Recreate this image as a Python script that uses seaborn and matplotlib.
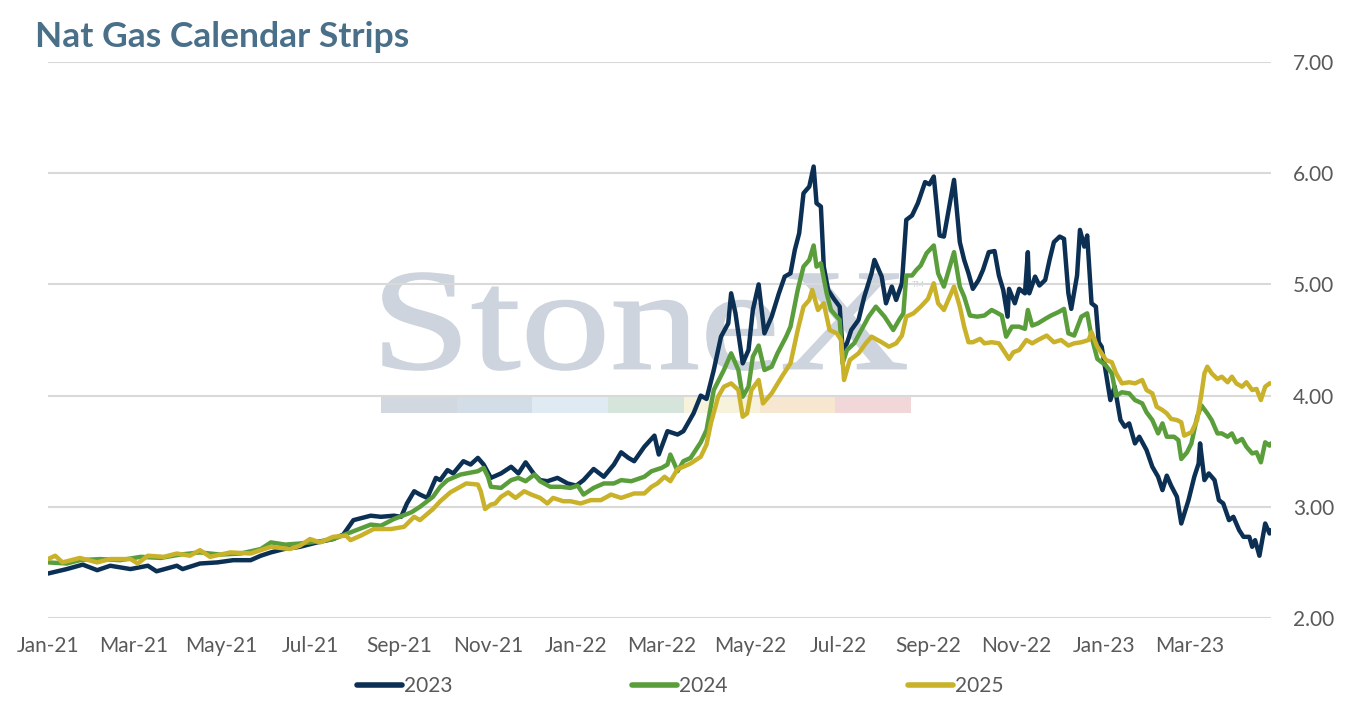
import numpy as np
import pandas as pd
import matplotlib
matplotlib.use("Agg")
import matplotlib.pyplot as plt
import matplotlib.dates as mdates
from matplotlib.ticker import FormatStrFormatter
from matplotlib.textpath import TextPath
from matplotlib.patches import PathPatch, Rectangle
from matplotlib.font_manager import FontProperties
from matplotlib.transforms import Affine2D
import seaborn as sns

# ---------------- data (days since 2021-01-01, price) ----------------
start_date = "2021-01-01"
series_names = ["2023", "2024", "2025"]

days_2023 = [0, 13, 24, 34, 43, 57, 69, 75, 89, 93,
             105, 117, 128, 140, 147, 154, 163, 174, 186, 197,
             204, 211, 223, 230, 239, 244, 248, 253, 257, 262,
             268, 271, 276, 280, 287, 292, 297, 301, 306, 313,
             320, 325, 330, 336, 340, 345, 352, 359, 365, 370,
             377, 384, 391, 396, 401, 405, 412, 419, 422, 428,
             435, 439, 446, 451, 455, 460, 465, 470, 472, 475,
             480, 484, 487, 491, 495, 500, 505, 509, 513, 516,
             519, 522, 526, 529, 531, 534, 536, 539, 543, 547,
             549, 552, 555, 560, 564, 569, 571, 576, 579, 583,
             586, 590, 593, 597, 601, 606, 609, 612, 616, 619,
             626, 630, 633, 636, 639, 643, 646, 650, 654, 657,
             660, 663, 664, 668, 671, 675, 677, 678, 682, 685,
             689, 692, 695, 699, 702, 705, 707, 711, 713, 716,
             718, 721, 724, 726, 728, 731, 734, 737, 741, 744,
             747, 751, 754, 759, 763, 767, 770, 773, 776, 780,
             783, 788, 792, 795, 796, 799, 802, 806, 809, 812,
             816, 819, 823, 826, 830, 832, 834, 837, 841, 844,
             845]
vals_2023 = [2.40, 2.44, 2.48, 2.43, 2.47, 2.44, 2.47, 2.42, 2.47, 2.44,
             2.49, 2.50, 2.52, 2.52, 2.56, 2.59, 2.62, 2.64, 2.68, 2.71,
             2.75, 2.88, 2.92, 2.91, 2.92, 2.91, 3.03, 3.14, 3.11, 3.08,
             3.26, 3.24, 3.33, 3.30, 3.41, 3.38, 3.44, 3.38, 3.26, 3.30,
             3.36, 3.30, 3.40, 3.29, 3.24, 3.23, 3.26, 3.21, 3.19, 3.24,
             3.34, 3.27, 3.38, 3.49, 3.44, 3.41, 3.54, 3.64, 3.47, 3.68,
             3.65, 3.68, 3.84, 4.00, 3.97, 4.23, 4.53, 4.65, 4.92, 4.74,
             4.29, 4.41, 4.77, 5.00, 4.56, 4.71, 4.92, 5.07, 5.10, 5.31,
             5.46, 5.82, 5.88, 6.06, 5.73, 5.70, 5.16, 4.95, 4.87, 4.80,
             4.41, 4.47, 4.59, 4.68, 4.89, 5.10, 5.22, 5.07, 4.83, 4.98,
             4.86, 5.01, 5.58, 5.62, 5.73, 5.92, 5.90, 5.97, 5.44, 5.43,
             5.94, 5.38, 5.22, 5.10, 4.96, 5.04, 5.13, 5.29, 5.30, 5.08,
             4.95, 4.71, 4.96, 4.83, 4.96, 4.92, 5.29, 4.92, 5.07, 4.99,
             5.04, 5.22, 5.38, 5.43, 5.41, 4.92, 4.78, 5.08, 5.49, 5.34,
             5.44, 4.83, 4.80, 4.48, 4.44, 4.20, 3.96, 4.08, 3.78, 3.72,
             3.75, 3.57, 3.63, 3.51, 3.36, 3.27, 3.15, 3.28, 3.19, 3.09,
             2.85, 3.06, 3.27, 3.39, 3.57, 3.24, 3.30, 3.24, 3.06, 3.03,
             2.88, 2.91, 2.79, 2.73, 2.73, 2.64, 2.70, 2.56, 2.85, 2.76,
             2.79]

days_2024 = [0, 13, 22, 36, 50, 64, 78, 91, 105, 119,
             133, 147, 154, 164, 174, 188, 197, 209, 223, 230,
             239, 251, 257, 266, 271, 276, 285, 297, 301, 304,
             306, 313, 320, 325, 330, 336, 340, 347, 354, 361,
             366, 370, 377, 384, 391, 396, 403, 412, 417, 424,
             428, 430, 435, 439, 444, 451, 455, 460, 467, 472,
             477, 480, 484, 487, 491, 495, 500, 504, 510, 513,
             518, 522, 526, 529, 531, 534, 538, 541, 547, 549,
             552, 557, 562, 567, 572, 578, 581, 584, 588, 591,
             593, 597, 600, 603, 607, 612, 615, 619, 626, 630,
             633, 637, 642, 647, 652, 655, 659, 662, 666, 671,
             675, 677, 680, 684, 689, 693, 698, 702, 705, 709,
             714, 718, 721, 725, 728, 731, 735, 738, 742, 747,
             751, 756, 759, 763, 767, 770, 773, 778, 781, 783,
             787, 790, 794, 797, 801, 804, 808, 811, 815, 818,
             821, 825, 828, 832, 835, 838, 841, 844, 845]
vals_2024 = [2.50, 2.49, 2.52, 2.53, 2.52, 2.55, 2.54, 2.57, 2.59, 2.57,
             2.58, 2.62, 2.68, 2.66, 2.67, 2.69, 2.71, 2.77, 2.84, 2.83,
             2.89, 2.95, 3.00, 3.09, 3.18, 3.24, 3.29, 3.32, 3.35, 3.27,
             3.18, 3.17, 3.24, 3.26, 3.23, 3.29, 3.23, 3.18, 3.18, 3.17,
             3.19, 3.11, 3.17, 3.21, 3.21, 3.24, 3.23, 3.27, 3.32, 3.35,
             3.38, 3.47, 3.32, 3.41, 3.44, 3.58, 3.69, 4.05, 4.23, 4.38,
             4.23, 3.99, 4.08, 4.35, 4.45, 4.23, 4.26, 4.38, 4.53, 4.62,
             4.95, 5.16, 5.22, 5.35, 5.16, 5.19, 4.92, 4.77, 4.68, 4.29,
             4.41, 4.47, 4.59, 4.71, 4.80, 4.71, 4.65, 4.59, 4.68, 4.74,
             5.08, 5.08, 5.13, 5.17, 5.28, 5.35, 5.10, 4.98, 5.29, 4.98,
             4.89, 4.72, 4.71, 4.72, 4.77, 4.75, 4.72, 4.53, 4.62, 4.62,
             4.60, 4.77, 4.63, 4.65, 4.69, 4.72, 4.75, 4.78, 4.56, 4.54,
             4.71, 4.74, 4.53, 4.33, 4.30, 4.27, 4.20, 4.00, 4.03, 4.02,
             3.96, 3.93, 3.85, 3.78, 3.66, 3.75, 3.63, 3.63, 3.60, 3.43,
             3.49, 3.57, 3.81, 3.91, 3.84, 3.78, 3.66, 3.66, 3.63, 3.66,
             3.58, 3.61, 3.54, 3.48, 3.49, 3.40, 3.58, 3.55, 3.57]

days_2025 = [0, 5, 10, 22, 34, 43, 57, 62, 69, 80,
             89, 98, 105, 112, 126, 140, 154, 167, 174, 181,
             188, 197, 206, 209, 216, 225, 237, 246, 253, 257,
             266, 271, 278, 289, 297, 299, 302, 306, 309, 313,
             318, 323, 329, 334, 340, 345, 349, 356, 361, 368,
             375, 382, 389, 396, 405, 412, 417, 421, 426, 430,
             435, 439, 444, 451, 455, 458, 463, 467, 472, 477,
             480, 483, 486, 491, 494, 500, 507, 513, 518, 522,
             526, 528, 532, 536, 540, 545, 548, 550, 554, 560,
             565, 569, 576, 581, 586, 590, 593, 598, 603, 608,
             612, 615, 619, 626, 630, 633, 636, 639, 644, 647,
             652, 657, 661, 664, 667, 671, 676, 680, 684, 690,
             695, 700, 705, 709, 714, 719, 721, 725, 728, 731,
             735, 738, 742, 747, 751, 756, 759, 763, 766, 770,
             773, 776, 780, 783, 785, 790, 794, 797, 799, 801,
             804, 808, 811, 815, 818, 821, 825, 828, 832, 835,
             838, 841, 844, 845]
vals_2025 = [2.53, 2.56, 2.50, 2.54, 2.50, 2.53, 2.53, 2.49, 2.56, 2.55,
             2.58, 2.56, 2.61, 2.55, 2.59, 2.58, 2.64, 2.62, 2.65, 2.71,
             2.68, 2.73, 2.74, 2.70, 2.74, 2.80, 2.80, 2.82, 2.91, 2.88,
             2.98, 3.05, 3.13, 3.21, 3.20, 3.14, 2.98, 3.02, 3.03, 3.09,
             3.13, 3.08, 3.14, 3.11, 3.08, 3.03, 3.08, 3.05, 3.05, 3.03,
             3.06, 3.06, 3.11, 3.08, 3.12, 3.12, 3.18, 3.21, 3.27, 3.23,
             3.34, 3.36, 3.39, 3.45, 3.56, 3.75, 3.99, 4.08, 4.11, 4.05,
             3.81, 3.84, 4.05, 4.14, 3.93, 4.02, 4.17, 4.29, 4.59, 4.80,
             4.86, 4.95, 4.77, 4.83, 4.59, 4.56, 4.50, 4.14, 4.32, 4.38,
             4.47, 4.53, 4.48, 4.44, 4.47, 4.54, 4.71, 4.74, 4.80, 4.87,
             5.01, 4.83, 4.77, 4.98, 4.80, 4.62, 4.48, 4.48, 4.51, 4.47,
             4.48, 4.47, 4.39, 4.33, 4.39, 4.41, 4.50, 4.47, 4.50, 4.54,
             4.48, 4.50, 4.45, 4.47, 4.48, 4.50, 4.57, 4.44, 4.38, 4.32,
             4.30, 4.20, 4.11, 4.12, 4.11, 4.14, 4.05, 4.02, 3.90, 3.87,
             3.84, 3.79, 3.78, 3.76, 3.64, 3.67, 3.78, 4.02, 4.20, 4.26,
             4.20, 4.15, 4.17, 4.12, 4.17, 4.11, 4.08, 4.12, 4.05, 4.06,
             3.96, 4.08, 4.11, 4.11]

y_ticks = [2, 3, 4, 5, 6, 7]
colors = {"2023": "#0c3054", "2024": "#5a9e3c", "2025": "#c9b22a"}

# ---------------- build frame ----------------
frames = []
for name, d, v in [("2023", days_2023, vals_2023),
                   ("2024", days_2024, vals_2024),
                   ("2025", days_2025, vals_2025)]:
    assert len(d) == len(v), (name, len(d), len(v))
    frames.append(pd.DataFrame({
        "date": pd.Timestamp(start_date) + pd.to_timedelta(d, unit="D"),
        "value": v,
        "series": name}))
df = pd.concat(frames, ignore_index=True)

# ---------------- figure ----------------
sns.set_theme(style="white")
plt.rcParams['font.family'] = ['Lato', 'DejaVu Sans']

W, H = 1350, 707
fig = plt.figure(figsize=(W / 100, H / 100), dpi=100)
ax_l, ax_r, ax_t, ax_b = 48, 1271, 62, 618
ax = fig.add_axes([ax_l / W, 1 - ax_b / H, (ax_r - ax_l) / W, (ax_b - ax_t) / H])

def px_to_axes(px, py):
    return (px - ax_l) / (ax_r - ax_l), (ax_b - py) / (ax_b - ax_t)

# watermark "StoneX"
tp = TextPath((0, 0), "StoneX", size=100, prop=FontProperties(family="Liberation Serif"))
ext = tp.get_extents()
x0, y0 = px_to_axes(383, 370)
x1, y1 = px_to_axes(906, 273)
tr = (Affine2D().translate(-ext.x0, -ext.y0)
      .scale((x1 - x0) / ext.width, (y1 - y0) / ext.height)
      .translate(x0, y0) + ax.transAxes)
ax.add_patch(PathPatch(tp, transform=tr, facecolor="#cdd4dd", edgecolor="#cdd4dd",
                       linewidth=1.2, zorder=0.1))
tx, ty = px_to_axes(912, 287)
ax.text(tx, ty, "TM", transform=ax.transAxes, fontsize=6, color="#cdd4dd", zorder=0.1)

bar_colors = ["#d2d8df", "#d3dde7", "#dfeaf3", "#d6e5dc", "#f6f2dc", "#f8e7d0", "#f2d7d8"]
bx0, by0 = px_to_axes(381, 413)
bx1, by1 = px_to_axes(911, 397)
bw = (bx1 - bx0) / len(bar_colors)
for i, c in enumerate(bar_colors):
    ax.add_patch(Rectangle((bx0 + i * bw, by0), bw, by1 - by0, transform=ax.transAxes,
                           facecolor=c, edgecolor="none", zorder=0.1))

sns.lineplot(data=df, x="date", y="value", hue="series", hue_order=series_names,
             palette=colors, linewidth=3.2, ax=ax, legend=True, zorder=3)

ax.set_ylim(2, 7)
ax.set_xlim(df["date"].min(), df["date"].max())
ax.yaxis.tick_right()
ax.set_yticks(y_ticks)
ax.yaxis.set_major_formatter(FormatStrFormatter('%.2f'))
ax.xaxis.set_major_locator(mdates.MonthLocator(bymonth=[1, 3, 5, 7, 9, 11]))
ax.xaxis.set_major_formatter(mdates.DateFormatter('%b-%y'))
ax.set_axisbelow(True)
ax.grid(axis='y', color='#d9d9d9', linewidth=1.5)
ax.grid(axis='x', visible=False)
for s in ax.spines.values():
    s.set_visible(False)
ax.tick_params(length=0, labelsize=15, colors='#595959')
ax.tick_params(axis='y', pad=16)
ax.tick_params(axis='x', pad=13)
ax.set_xlabel("")
ax.set_ylabel("")

handles, labels = ax.get_legend_handles_labels()
ax.get_legend().remove()
for h in handles:
    h.set_linewidth(4)
fig.legend(handles, labels, loc='center', bbox_to_anchor=(0.5037, 1 - 686 / H), ncol=3,
           frameon=False, handlelength=2.15, handletextpad=0.1, columnspacing=8.65,
           fontsize=15, labelcolor='#595959')

fig.text(35 / W, 1 - 47 / H, "Nat Gas Calendar Strips", fontsize=25.5, fontweight='bold',
         color='#4a6f89', ha='left', va='baseline')

fig.savefig("out.png", dpi=100)
